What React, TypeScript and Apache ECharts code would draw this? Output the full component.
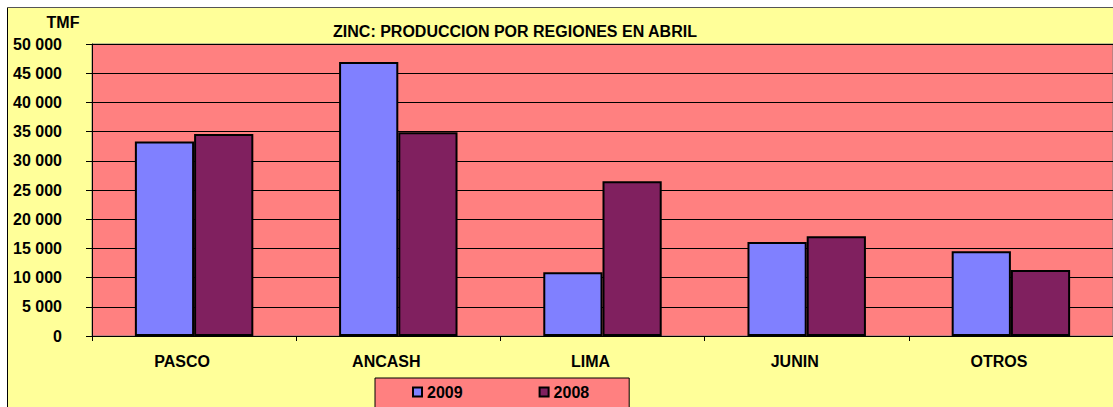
import React, { useEffect, useRef } from "react";
import * as echarts from "echarts";

const categories = ["PASCO", "ANCASH", "LIMA", "JUNIN", "OTROS"];
const values2009 = [33300, 46900, 10900, 16100, 14500];
const values2008 = [34600, 34900, 26500, 17100, 11300];
const seriesNames = ["2009", "2008"];
const titleText = "ZINC: PRODUCCION POR REGIONES EN ABRIL";
const unitText = "TMF";

const FONT = "'Liberation Sans', Arial, sans-serif";

export default function App() {
  const ref = useRef<HTMLDivElement>(null);
  useEffect(() => {
    if (!ref.current) return;
    const chart = echarts.init(ref.current, undefined, { renderer: "svg" });
    chart.setOption({
      animation: false,
      backgroundColor: "#ffffff",
      textStyle: { fontFamily: FONT },
      graphic: [
        {
          type: "rect",
          z: -10,
          silent: true,
          shape: { x: 7, y: 7, width: 1106, height: 400 },
          style: { fill: "#FFFF99", lineWidth: 0 },
        },
        {
          type: "line",
          z: -9,
          silent: true,
          shape: { x1: 7.5, y1: 7.5, x2: 7.5, y2: 407 },
          style: { stroke: "#000", lineWidth: 1 },
        },
        {
          type: "line",
          z: -9,
          silent: true,
          shape: { x1: 7.5, y1: 7.5, x2: 1113, y2: 7.5 },
          style: { stroke: "#555", lineWidth: 1 },
        },
        {
          type: "text",
          x: 515,
          y: 31,
          style: {
            text: titleText,
            fill: "#000",
            font: `bold 16px ${FONT}`,
            textAlign: "center",
            textVerticalAlign: "middle",
          },
        },
        {
          type: "text",
          x: 63,
          y: 22,
          style: {
            text: unitText,
            fill: "#000",
            font: `bold 16px ${FONT}`,
            textAlign: "center",
            textVerticalAlign: "middle",
          },
        },
      ],
      grid: {
        left: 92,
        top: 44,
        width: 1025,
        height: 292,
        show: true,
        backgroundColor: "#FF8080",
        borderColor: "#808080",
        borderWidth: 1,
        containLabel: false,
      },
      legend: {
        data: seriesNames,
        left: 375,
        top: 378,
        orient: "horizontal",
        icon: "rect",
        itemWidth: 9,
        itemHeight: 9,
        itemGap: 76,
        padding: [6, 40, 12, 37],
        backgroundColor: "#FF8080",
        borderColor: "#000",
        borderWidth: 1,
        textStyle: { fontFamily: FONT, fontWeight: "bold", fontSize: 16, color: "#000" },
      },
      xAxis: {
        type: "category",
        data: categories,
        axisLine: { show: true, lineStyle: { color: "#000", width: 1 } },
        axisTick: { show: true, length: 5, lineStyle: { color: "#000" } },
        axisLabel: {
          color: "#000",
          fontWeight: "bold",
          fontSize: 16,
          fontFamily: FONT,
          margin: 17,
          padding: [0, 24, 0, 0],
        },
        splitLine: { show: false },
      },
      yAxis: {
        type: "value",
        min: 0,
        max: 50000,
        interval: 5000,
        axisLine: { show: true, lineStyle: { color: "#000", width: 1 } },
        axisTick: { show: true, length: 6, lineStyle: { color: "#000" } },
        axisLabel: {
          color: "#000",
          fontWeight: "bold",
          fontSize: 16,
          fontFamily: FONT,
          margin: 30,
          formatter: (v: number) => String(v).replace(/\B(?=(\d{3})+(?!\d))/g, " "),
        },
        splitLine: { show: true, lineStyle: { color: "#000", width: 1 } },
      },
      series: [
        {
          name: seriesNames[0],
          type: "bar",
          data: values2009,
          barGap: "0%",
          barCategoryGap: "42%",
          itemStyle: { color: "#8080FF", borderColor: "#000", borderWidth: 2 },
        },
        {
          name: seriesNames[1],
          type: "bar",
          data: values2008,
          barGap: "0%",
          barCategoryGap: "42%",
          itemStyle: { color: "#80205F", borderColor: "#000", borderWidth: 2 },
        },
      ],
    });
    return () => chart.dispose();
  }, []);
  return (
    <div
      ref={ref}
      style={{ position: "fixed", left: 0, top: 0, width: 1113, height: 407 }}
    />
  );
}
